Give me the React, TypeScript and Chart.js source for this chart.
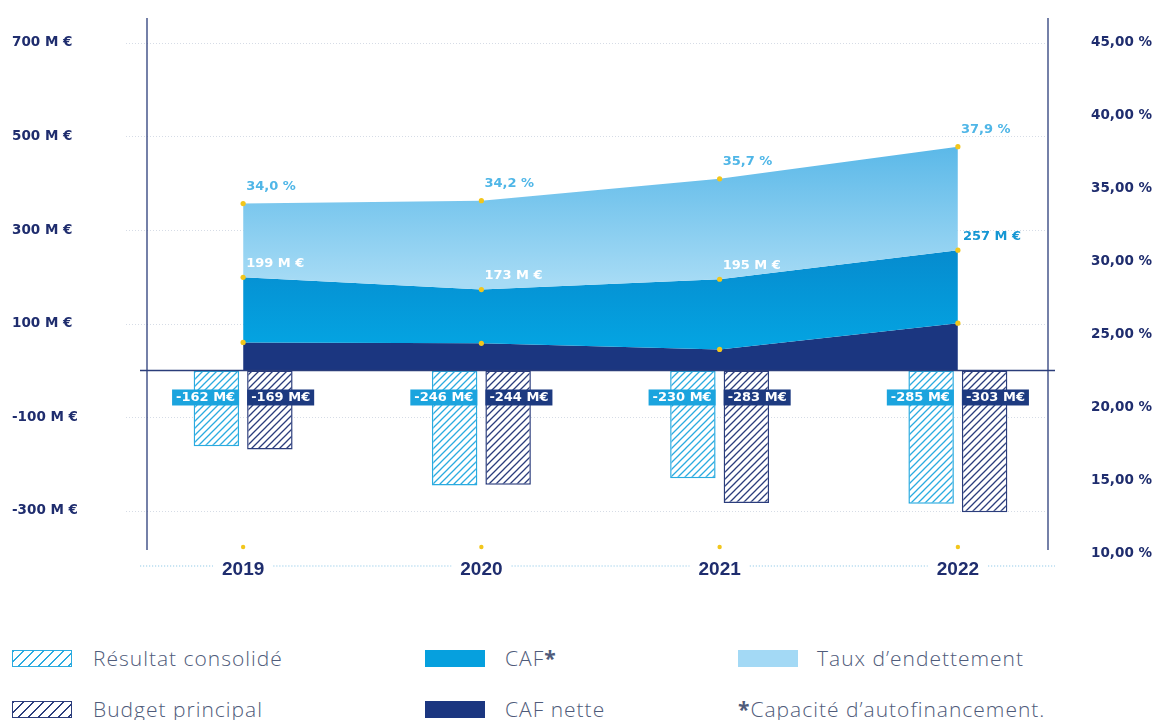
import React, { useEffect, useRef } from 'react';
import { Chart, registerables } from 'chart.js';

Chart.register(...registerables);

// ---- data ----
const years = ['2019', '2020', '2021', '2022'];
const resultatConsolide = [-162, -246, -230, -285];
const budgetPrincipal = [-169, -244, -283, -303];
const tauxEndettement = [34.0, 34.2, 35.7, 37.9];
const caf = [199, 173, 195, 257];
const cafNette = [60, 58, 45, 101];
const leftTicks = [-300, -100, 100, 300, 500, 700];
const rightTicks = [10, 15, 20, 25, 30, 35, 40, 45];

// ---- style ----
const NAVY_TEXT = '#1f2d6e';
const LIGHT_HATCH = '#2aabe0';
const NAVY_HATCH = '#2b3d7c';
const CAF_NETTE = '#1b3680';
const YELLOW = '#f2c61c';
const AXIS_LINE = '#2b3d7a';
const LABEL_FONT = 'bold 13px "DejaVu Sans", sans-serif';

function makeHatch(color: string): CanvasPattern | string {
  const s = 7;
  const c = document.createElement('canvas');
  c.width = s;
  c.height = s;
  const g = c.getContext('2d');
  if (!g) return color;
  g.fillStyle = '#ffffff';
  g.fillRect(0, 0, s, s);
  g.strokeStyle = color;
  g.lineWidth = 1.3;
  g.beginPath();
  g.moveTo(0, s);
  g.lineTo(s, 0);
  g.moveTo(-1, 1);
  g.lineTo(1, -1);
  g.moveTo(s - 1, s + 1);
  g.lineTo(s + 1, s - 1);
  g.stroke();
  const p = g.createPattern(c, 'repeat');
  return p || color;
}

const decorPlugin = {
  id: 'decor',
  beforeDraw(chart: any) {
    const { ctx, scales } = chart;
    const x = scales.x;
    const yLine = 566;
    ctx.save();
    ctx.font = 'bold 19px "Liberation Sans", Arial, sans-serif';
    const gaps: Array<[number, number]> = [];
    years.forEach((lab, i) => {
      const px = x.getPixelForValue(i);
      const w = ctx.measureText(lab).width;
      gaps.push([px - w / 2 - 9, px + w / 2 + 9]);
    });
    ctx.strokeStyle = '#94cbe8';
    ctx.lineWidth = 1.2;
    ctx.setLineDash([1.2, 1.8]);
    let start = 140;
    ctx.beginPath();
    gaps.forEach(([a, b]) => {
      ctx.moveTo(start, yLine);
      ctx.lineTo(a, yLine);
      start = b;
    });
    ctx.moveTo(start, yLine);
    ctx.lineTo(1055, yLine);
    ctx.stroke();
    ctx.restore();
  },
  beforeDatasetsDraw(chart: any) {
    const { ctx, scales } = chart;
    const y = scales.y;
    ctx.save();
    ctx.strokeStyle = '#d6dce6';
    ctx.lineWidth = 1;
    ctx.setLineDash([1, 2]);
    leftTicks.forEach((v) => {
      const py = Math.round(y.getPixelForValue(v)) + 0.5;
      ctx.beginPath();
      ctx.moveTo(126, py);
      ctx.lineTo(1046, py);
      ctx.stroke();
    });
    ctx.restore();
  },
  afterDatasetsDraw(chart: any) {
    const { ctx, scales } = chart;
    const y = scales.y;
    const x = scales.x;
    const y0 = y.getPixelForValue(0);
    ctx.save();

    // zero line
    ctx.strokeStyle = AXIS_LINE;
    ctx.lineWidth = 1.5;
    ctx.beginPath();
    ctx.moveTo(140, y0);
    ctx.lineTo(1055, y0);
    ctx.stroke();

    // vertical axis lines
    ctx.lineWidth = 1.3;
    ctx.beginPath();
    ctx.moveTo(147, 18);
    ctx.lineTo(147, 550);
    ctx.moveTo(1048, 18);
    ctx.lineTo(1048, 550);
    ctx.stroke();

    // yellow dots on lines
    ctx.fillStyle = YELLOW;
    [2, 3, 4].forEach((di) => {
      const meta = chart.getDatasetMeta(di);
      meta.data.forEach((pt: any) => {
        ctx.beginPath();
        ctx.arc(pt.x, pt.y, 2.6, 0, Math.PI * 2);
        ctx.fill();
      });
    });
    // yellow dots under categories
    years.forEach((_, i) => {
      ctx.beginPath();
      ctx.arc(x.getPixelForValue(i), 547, 2.2, 0, Math.PI * 2);
      ctx.fill();
    });

    ctx.font = LABEL_FONT;
    ctx.textBaseline = 'middle';
    ctx.textAlign = 'left';

    // taux labels
    const tauxMeta = chart.getDatasetMeta(2);
    tauxMeta.data.forEach((pt: any, i: number) => {
      ctx.fillStyle = '#4fb6e7';
      ctx.fillText(tauxEndettement[i].toFixed(1).replace('.', ',') + ' %', pt.x + 3, pt.y - 17);
    });

    // CAF labels
    const cafMeta = chart.getDatasetMeta(3);
    cafMeta.data.forEach((pt: any, i: number) => {
      const last = i === caf.length - 1;
      ctx.fillStyle = last ? '#1596d3' : '#ffffff';
      ctx.fillText(`${caf[i]} M €`, pt.x + (last ? 5 : 3), pt.y - 14);
    });

    // bar labels
    const boxes: Array<[number, number[], string]> = [
      [0, resultatConsolide, '#1ba4de'],
      [1, budgetPrincipal, '#1d3a80'],
    ];
    boxes.forEach(([di, vals, col]) => {
      const meta = chart.getDatasetMeta(di);
      meta.data.forEach((bar: any, i: number) => {
        const txt = `${vals[i]} M€`;
        const w = ctx.measureText(txt).width + 8;
        const h = 16;
        const cy = y0 + 27;
        const left = di === 0 ? bar.x + bar.width / 2 - w : bar.x - bar.width / 2;
        ctx.fillStyle = col;
        ctx.fillRect(left, cy - h / 2, w, h);
        ctx.fillStyle = '#ffffff';
        ctx.fillText(txt, left + 4, cy + 0.5);
      });
    });

    ctx.restore();
  },
};

function vGradient(chart: any, top: number, bottom: number, c1: string, c2: string) {
  const { ctx } = chart;
  const g = ctx.createLinearGradient(0, top, 0, bottom);
  g.addColorStop(0, c1);
  g.addColorStop(1, c2);
  return g;
}

export default function App() {
  const canvasRef = useRef<HTMLCanvasElement | null>(null);

  useEffect(() => {
    const canvas = canvasRef.current;
    if (!canvas) return;
    const lightHatch = makeHatch(LIGHT_HATCH);
    const navyHatch = makeHatch(NAVY_HATCH);

    const chart = new Chart(canvas, {
      type: 'bar',
      data: {
        labels: years,
        datasets: [
          {
            type: 'bar',
            label: 'Résultat consolidé',
            data: resultatConsolide,
            yAxisID: 'y',
            backgroundColor: lightHatch as any,
            borderColor: LIGHT_HATCH,
            borderWidth: 1.5,
            borderSkipped: false,
            categoryPercentage: 0.449,
            barPercentage: 0.85,
          },
          {
            type: 'bar',
            label: 'Budget principal',
            data: budgetPrincipal,
            yAxisID: 'y',
            backgroundColor: navyHatch as any,
            borderColor: NAVY_HATCH,
            borderWidth: 1.5,
            borderSkipped: false,
            categoryPercentage: 0.449,
            barPercentage: 0.85,
          },
          {
            type: 'line',
            label: "Taux d'endettement",
            data: tauxEndettement,
            yAxisID: 'y1',
            fill: '+1',
            tension: 0,
            pointRadius: 0,
            borderWidth: 0,
            borderColor: 'rgba(0,0,0,0)',
            backgroundColor: (c: any) => {
              const ch = c.chart;
              if (!ch.chartArea) return '#8fd0f1';
              return vGradient(ch, ch.scales.y1.getPixelForValue(38), ch.scales.y.getPixelForValue(190), '#5ab8e8', '#a6dbf5');
            },
          },
          {
            type: 'line',
            label: 'CAF*',
            data: caf,
            yAxisID: 'y',
            fill: '+1',
            tension: 0,
            pointRadius: 0,
            borderWidth: 0,
            borderColor: 'rgba(0,0,0,0)',
            backgroundColor: (c: any) => {
              const ch = c.chart;
              if (!ch.chartArea) return '#069dda';
              return vGradient(ch, ch.scales.y.getPixelForValue(250), ch.scales.y.getPixelForValue(60), '#068ccf', '#04a3e1');
            },
          },
          {
            type: 'line',
            label: 'CAF nette',
            data: cafNette,
            yAxisID: 'y',
            fill: 'origin',
            tension: 0,
            pointRadius: 0,
            borderWidth: 0,
            borderColor: 'rgba(0,0,0,0)',
            backgroundColor: CAF_NETTE,
          },
        ],
      },
      options: {
        responsive: true,
        maintainAspectRatio: false,
        animation: false,
        layout: { padding: { top: 18, left: 12, right: 3, bottom: 0 } },
        plugins: {
          legend: { display: false },
          tooltip: { enabled: false },
          title: { display: false },
        },
        scales: {
          x: {
            type: 'category',
            offset: true,
            grid: { display: false, drawTicks: false },
            border: { display: false },
            ticks: {
              color: NAVY_TEXT,
              padding: 2,
              font: { family: '"Liberation Sans", Arial, sans-serif', weight: 'bold', size: 19 },
            },
            afterFit(s: any) {
              s.height = 44;
            },
          },
          y: {
            type: 'linear',
            position: 'left',
            min: -396.4,
            max: 753.2,
            grid: { display: false },
            border: { display: false },
            ticks: {
              color: NAVY_TEXT,
              crossAlign: 'far',
              font: { family: '"DejaVu Sans", sans-serif', weight: 'bold', size: 13.5 },
              callback: (v: any) => `${v} M €`,
            },
            afterBuildTicks(s: any) {
              s.ticks = leftTicks.map((v) => ({ value: v }));
            },
            afterFit(s: any) {
              s.width = 112;
            },
          },
          y1: {
            type: 'linear',
            position: 'right',
            min: 9.863,
            max: 46.712,
            grid: { display: false },
            border: { display: false },
            ticks: {
              color: NAVY_TEXT,
              crossAlign: 'far',
              font: { family: '"DejaVu Sans", sans-serif', weight: 'bold', size: 13.5 },
              callback: (v: any) => Number(v).toFixed(2).replace('.', ',') + ' %',
            },
            afterBuildTicks(s: any) {
              s.ticks = rightTicks.map((v) => ({ value: v }));
            },
            afterFit(s: any) {
              s.width = 75;
            },
          },
        },
      },
      plugins: [decorPlugin],
    } as any);

    return () => chart.destroy();
  }, []);

  const legendText: React.CSSProperties = {
    position: 'absolute',
    fontFamily: '"Open Sans", sans-serif',
    fontWeight: 300,
    fontSize: 21,
    letterSpacing: '1px',
    color: '#4f5b7a',
    lineHeight: '24px',
    whiteSpace: 'nowrap',
  };
  const swatch = (left: number, top: number, bg: string, border?: string): React.CSSProperties => ({
    position: 'absolute',
    left,
    top,
    width: 60,
    height: 17,
    boxSizing: 'border-box',
    background: bg,
    border: border ? `1.5px solid ${border}` : 'none',
  });
  const hatch = (c: string) => `repeating-linear-gradient(135deg, ${c} 0px, ${c} 1.3px, #ffffff 1.3px, #ffffff 7px)`;

  return (
    <div style={{ position: 'absolute', left: 0, top: 0, width: 1155, height: 720, background: '#ffffff', overflow: 'hidden' }}>
      <div style={{ position: 'absolute', left: 0, top: 0, width: 1155, height: 600 }}>
        <canvas ref={canvasRef} />
      </div>
      <div style={swatch(12, 650, hatch(LIGHT_HATCH), LIGHT_HATCH)} />
      <div style={{ ...legendText, left: 93, top: 646 }}>Résultat consolidé</div>
      <div style={swatch(425, 650, '#06a0de')} />
      <div style={{ ...legendText, left: 505, top: 646 }}>
        CAF<b style={{ fontWeight: 700 }}>*</b>
      </div>
      <div style={swatch(738, 650, '#a3d9f5')} />
      <div style={{ ...legendText, left: 817, top: 646 }}>Taux d’endettement</div>

      <div style={swatch(12, 701, hatch(NAVY_HATCH), NAVY_HATCH)} />
      <div style={{ ...legendText, left: 93, top: 697 }}>Budget principal</div>
      <div style={swatch(425, 701, CAF_NETTE)} />
      <div style={{ ...legendText, left: 505, top: 697 }}>CAF nette</div>
      <div style={{ ...legendText, left: 738, top: 697 }}>
        <b style={{ fontWeight: 700 }}>*</b>Capacité d’autofinancement.
      </div>
    </div>
  );
}
